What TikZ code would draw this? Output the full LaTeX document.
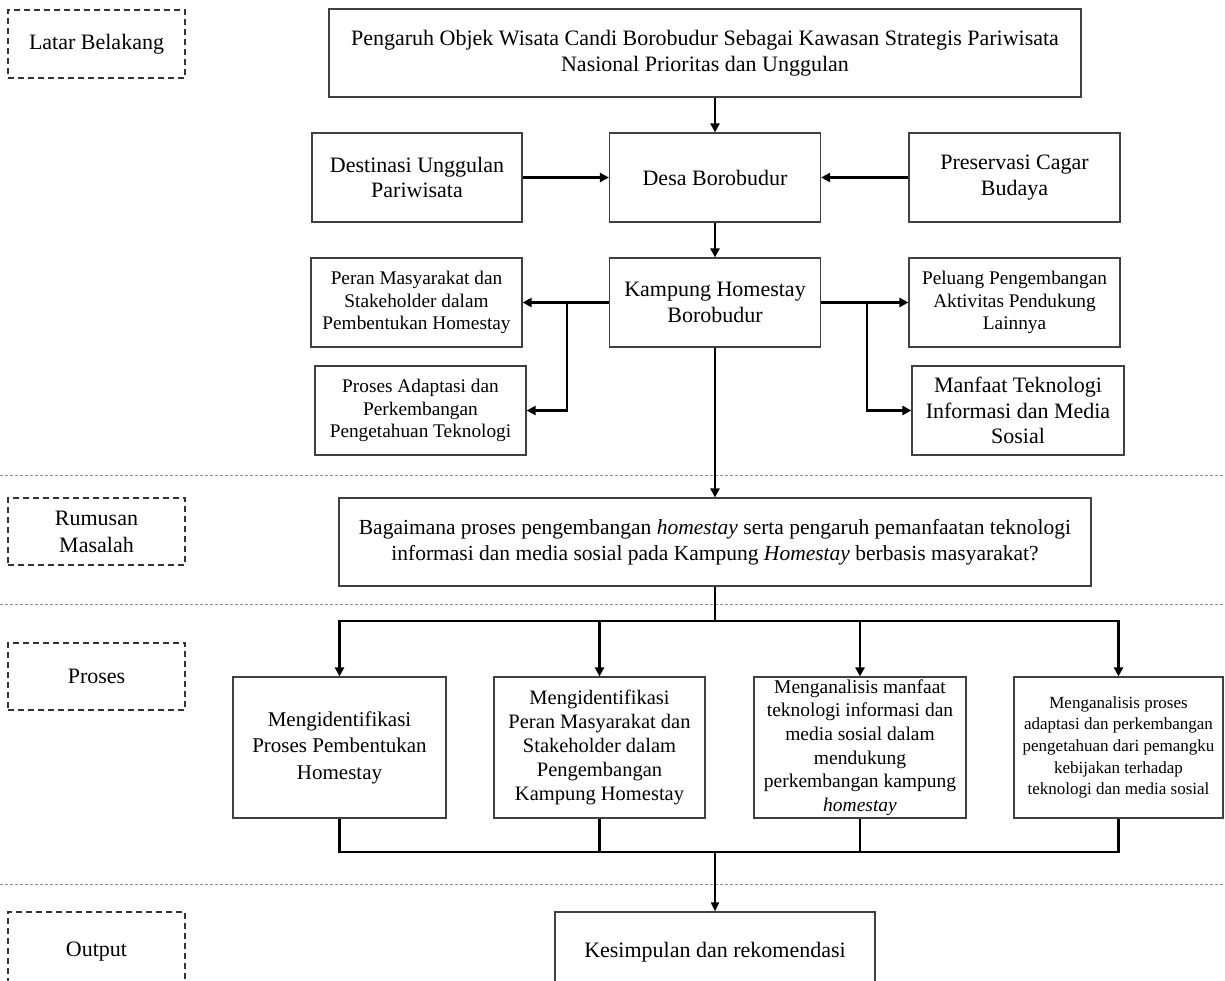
\documentclass[tikz,border=0pt]{standalone}
\usepackage{fontspec}
\setmainfont{Liberation Serif}
\usetikzlibrary{arrows.meta}
\definecolor{boxc}{gray}{0.25}
\definecolor{secc}{gray}{0.55}
\begin{document}
\begin{tikzpicture}[x=1pt,y=-1pt,
  bx/.style n args={2}{draw=boxc,line width=1.2pt,inner sep=0pt,minimum width=#1,minimum height=#2,align=center},
  lbl/.style={draw=black!80,dash pattern=on 6pt off 4pt,line width=1.2pt,inner sep=0pt,minimum width=177pt,minimum height=68pt,align=center,font=\fontsize{22}{27}\selectfont},
  conn/.style={line width=2.8pt},
  arr/.style={line width=2.8pt,-{Triangle[length=9pt,width=9pt]}},
  arrthin/.style={line width=1.8pt,-{Triangle[length=9pt,width=8pt]}},
  secline/.style={draw=secc,line width=0.8pt,dash pattern=on 3pt off 2pt},
  fL/.style={font=\fontsize{22}{25.5}\selectfont},
  fM/.style={font=\fontsize{19.3}{22.5}\selectfont},
]
\clip (0,0) rectangle (1225,980);
\fill[white] (0,0) rectangle (1225,980);

% section lines
\draw[secline] (0,475) -- (1225,475);
\draw[secline] (0,604) -- (1225,604);
\draw[secline] (0,884) -- (1225,884);

% section labels
\node[lbl] (latar) at (96.5,44) {Latar Belakang};
\node[lbl,minimum height=67pt] (rumusan) at (96.5,531.5) {Rumusan\\Masalah};
\node[lbl,minimum height=67pt] (proseslbl) at (96.5,676.5) {Proses};
\node[lbl,minimum height=80pt] (output) at (96.5,952) {Output};

% latar belakang
\node[bx={752pt}{88pt},fL] (top) at (705,53) {Pengaruh Objek Wisata Candi Borobudur Sebagai Kawasan Strategis Pariwisata\\Nasional Prioritas dan Unggulan};
\node[bx={210pt}{89pt},fL] (dest) at (417,177.5) {Destinasi Unggulan\\Pariwisata};
\node[bx={211pt}{89pt},fL] (desa) at (715,177.5) {Desa Borobudur};
\node[bx={211pt}{89pt},fL] (pres) at (1014.5,177.5) {Preservasi Cagar\\Budaya};
\node[bx={211pt}{89pt},fM] (peran) at (416.5,302.5) {Peran Masyarakat dan\\Stakeholder dalam\\Pembentukan Homestay};
\node[bx={211pt}{89pt},fL] (kampung) at (715,302.5) {Kampung Homestay\\Borobudur};
\node[bx={211pt}{89pt},fM] (peluang) at (1014.5,302.5) {Peluang Pengembangan\\Aktivitas Pendukung\\Lainnya};
\node[bx={211pt}{89pt},fM] (adapt) at (420.5,410.5) {Proses Adaptasi dan\\Perkembangan\\Pengetahuan Teknologi};
\node[bx={212pt}{89pt},fL] (manfaat) at (1018,410.5) {Manfaat Teknologi\\Informasi dan Media\\Sosial};

% rumusan masalah
\node[bx={752pt}{88pt},font=\fontsize{21.5}{25.5}\selectfont] (bag) at (715,542) {Bagaimana proses pengembangan \textit{homestay} serta pengaruh pemanfaatan teknologi\\informasi dan media sosial pada Kampung \textit{Homestay} berbasis masyarakat?};

% proses
\node[bx={213pt}{141pt},font=\fontsize{21}{26.5}\selectfont] (p1) at (339.5,747.5) {Mengidentifikasi\\Proses Pembentukan\\Homestay};
\node[bx={211pt}{141pt},font=\fontsize{20.5}{24.2}\selectfont] (p2) at (599.5,747.5) {Mengidentifikasi\\Peran Masyarakat dan\\Stakeholder dalam\\Pengembangan\\Kampung Homestay};
\node[bx={212pt}{141pt},font=\fontsize{19.5}{23.6}\selectfont] (p3) at (860,747.5) {Menganalisis manfaat\\teknologi informasi dan\\media sosial dalam\\mendukung\\perkembangan kampung\\\textit{homestay}};
\node[bx={209pt}{141pt},font=\fontsize{17}{21.7}\selectfont] (p4) at (1118.5,747.5) {Menganalisis proses\\adaptasi dan perkembangan\\pengetahuan dari pemangku\\kebijakan terhadap\\teknologi dan media sosial};

% output
\node[bx={320pt}{80pt},fL] (kes) at (715,952) {Kesimpulan dan rekomendasi};

% helper coordinates
\coordinate (bl) at (567,302.5);
\coordinate (br) at (867,302.5);
\coordinate (ya) at (0,621);
\coordinate (yb) at (0,852);

% connectors
\draw[arr] (desa.north |- top.south) -- (desa.north);
\draw[arr] (dest.east) -- (desa.west);
\draw[arr] (pres.west) -- (desa.east);
\draw[arr] (desa.south) -- (kampung.north);
\draw[arr] (kampung.west) -- (peran.east);
\draw[arr] (bl) |- (adapt.east);
\draw[arr] (kampung.east) -- (peluang.west);
\draw[arr] (br) |- (manfaat.west);
\draw[arr] (kampung.south) -- (kampung.south |- bag.north);

\draw[conn] (bag.south) -- (bag.south |- ya);
\draw[arr] (bag.south |- ya) -| (p1.north);
\draw[arr] (bag.south |- ya) -| (p4.north);
\draw[arr] (p2.north |- ya) -- (p2.north);
\draw[arr] (p3.north |- ya) -- (p3.north);

\draw[conn] (p1.south) |- (p4.south |- yb) -- (p4.south);
\draw[conn] (p2.south) -- (p2.south |- yb);
\draw[conn] (p3.south) -- (p3.south |- yb);
\draw[arrthin] (kes.north |- yb) -- (kes.north);
\end{tikzpicture}
\end{document}
